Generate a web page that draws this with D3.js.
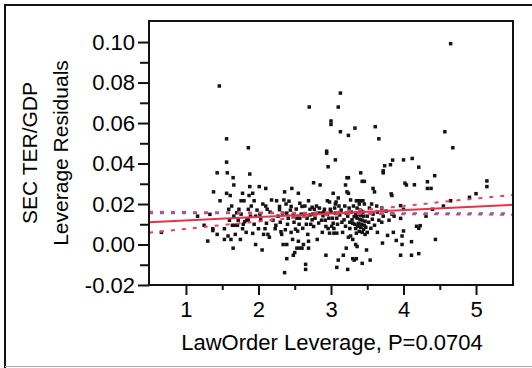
<!DOCTYPE html>
<html><head><meta charset="utf-8">
<script src="https://cdn.jsdelivr.net/npm/d3@7"></script>
<style>
body{margin:0;background:#fff}
svg{display:block}
text{font-family:"Liberation Sans",Arial,sans-serif;fill:#000}
</style>
</head><body><svg id="c" width="532" height="368"></svg>
<script>
// ---- data ----
const pointsX = [
0.66,1.16,1.25,1.30,1.33,1.38,1.37,1.37,1.43,1.43,1.46,1.47,1.53,1.53,1.56,1.56,1.56,1.57,1.58,1.59,
1.61,1.62,1.63,1.65,1.65,1.66,1.64,1.68,1.71,1.68,1.70,1.73,1.75,1.76,1.80,1.78,1.78,1.81,1.84,1.86,
1.86,1.86,1.88,1.88,1.87,1.92,1.94,1.90,1.92,1.96,1.96,2.01,2.10,2.06,2.10,2.00,2.03,2.05,2.12,2.11,
2.09,2.13,2.15,2.25,2.29,2.29,2.23,2.33,2.31,2.36,2.35,2.38,2.39,2.34,2.39,2.37,2.39,2.36,2.46,2.42,
2.45,2.41,2.48,2.47,2.48,2.50,2.51,2.54,2.55,2.57,2.60,2.53,2.57,2.53,2.57,2.60,2.55,2.62,2.65,2.65,
2.69,2.69,2.67,2.69,2.70,2.71,2.74,2.77,2.71,2.74,2.76,2.81,2.76,2.85,2.82,2.86,2.89,2.83,2.91,2.93,
2.94,2.94,2.96,2.95,2.98,2.93,2.96,2.98,3.00,3.00,3.03,2.99,3.02,3.03,3.04,3.06,3.06,3.08,3.10,3.10,
3.13,3.13,3.07,3.10,3.11,3.06,3.08,3.12,3.04,3.08,3.17,3.23,3.21,3.18,3.21,3.22,3.24,3.20,3.22,3.24,
3.27,3.24,3.33,3.24,3.27,3.30,3.26,3.29,3.32,3.34,3.30,3.34,3.35,3.34,3.36,3.30,3.32,3.35,3.43,3.49,
3.54,3.41,3.43,3.46,3.35,3.38,3.41,3.44,3.39,3.46,3.36,3.40,3.42,3.44,3.38,3.41,3.45,3.36,3.40,3.43,
3.47,3.38,3.42,3.46,3.37,3.41,3.45,3.48,3.39,3.43,3.47,3.50,3.52,3.53,3.50,3.55,3.56,3.57,3.58,3.60,
3.58,3.60,3.61,3.66,3.63,3.64,3.66,3.64,3.70,3.72,3.70,3.71,3.72,3.72,3.74,3.76,3.78,3.80,3.82,3.83,
3.84,3.85,3.84,3.86,3.87,3.90,3.96,3.96,3.98,3.98,3.96,4.00,4.00,4.00,4.02,4.04,4.11,4.11,4.12,4.15,
4.18,4.21,4.21,4.21,4.23,4.31,4.33,4.33,4.38,4.40,4.43,4.44,4.55,4.57,4.65,4.65,4.68,4.91,5.00,5.15,
5.15,
2.20,2.24,2.27,2.30,2.32,2.40,2.44,2.45,2.49,2.52,2.56,2.59,2.61,2.63,2.64,2.66,2.68,2.72,2.75,2.78,
2.80,2.84,2.87,2.88,2.90,2.92,2.95,2.97,3.00,3.01,3.05,3.09,3.14,3.15,3.16,3.19,3.20,3.23,3.25,3.26,
3.28,3.31,3.33,3.35,
1.60,1.66,1.72,1.76,1.79,1.83,1.89,1.94,1.98,2.02,2.07,2.16,2.18
];
const pointsY = [
0.0060,0.0140,0.0095,0.0017,0.0149,0.0260,0.0078,0.0069,0.0050,0.0354,0.0783,0.0216,0.0078,0.0025,0.0522,0.0407,0.0253,0.0354,0.0042,0.0174,
0.0242,0.0025,0.0190,0.0330,-0.0018,0.0294,0.0095,0.0095,0.0095,0.0050,0.0157,0.0174,0.0025,0.0216,0.0216,0.0253,0.0078,0.0113,0.0121,0.0121,
0.0174,0.0478,0.0348,0.0286,0.0242,0.0253,0.0216,0.0190,0.0055,0.0140,0.0000,0.0286,0.0277,0.0200,0.0190,0.0078,0.0122,-0.0027,0.0174,0.0105,
0.0078,0.0050,0.0036,0.0216,0.0188,0.0172,0.0078,0.0155,0.0063,0.0260,0.0220,0.0200,0.0155,0.0000,0.0000,0.0073,-0.0070,-0.0139,0.0277,0.0214,
0.0188,0.0130,0.0146,0.0025,-0.0053,-0.0040,0.0076,0.0066,0.0253,0.0204,0.0188,0.0130,0.0130,-0.0018,-0.0018,-0.0018,0.0016,0.0000,-0.0098,-0.0123,
0.0016,-0.0018,0.0130,0.0216,0.0679,0.0174,0.0184,0.0174,0.0146,0.0122,0.0089,0.0025,0.0305,0.0294,0.0155,0.0155,0.0142,0.0106,0.0174,-0.0053,
0.0461,0.0451,0.0384,0.0216,0.0210,0.0089,0.0079,0.0056,0.0610,0.0593,0.0253,0.0174,0.0130,0.0105,0.0056,0.0418,0.0200,-0.0113,-0.0077,0.0679,
0.0748,0.0557,0.0210,0.0230,0.0190,0.0155,0.0130,0.0146,0.0079,0.0056,-0.0053,-0.0123,-0.0018,0.0122,0.0155,0.0330,0.0330,0.0294,0.0260,0.0253,
0.0220,0.0539,0.0575,0.0036,0.0042,0.0025,0.0079,0.0122,0.0138,0.0155,0.0105,0.0079,0.0056,0.0000,-0.0010,-0.0070,-0.0077,-0.0070,-0.0093,-0.0027,
-0.0077,0.0354,0.0312,0.0312,0.0216,0.0216,0.0216,0.0216,0.0200,0.0200,0.0180,0.0170,0.0165,0.0160,0.0150,0.0145,0.0140,0.0130,0.0125,0.0120,
0.0115,0.0105,0.0100,0.0095,0.0090,0.0085,0.0075,0.0085,0.0065,0.0060,0.0050,0.0140,0.0110,0.0180,0.0060,0.0080,0.0200,0.0125,0.0277,0.0260,
0.0150,0.0095,0.0582,0.0522,0.0190,0.0160,0.0120,0.0060,0.0180,0.0140,0.0110,0.0007,0.0364,0.0354,0.0389,0.0165,0.0045,0.0120,0.0394,0.0250,
0.0242,0.0417,0.0150,0.0060,0.0140,0.0020,0.0192,0.0129,0.0042,0.0000,-0.0053,0.0418,0.0174,0.0067,0.0303,0.0294,0.0014,-0.0053,0.0425,0.0295,
0.0090,0.0080,0.0382,-0.0045,0.0093,0.0140,0.0310,0.0277,0.0277,0.0174,0.0340,0.0025,0.0190,0.0557,0.0216,0.0992,0.0478,0.0233,0.0251,0.0314,
0.0286,
0.0120,0.0095,0.0140,0.0110,0.0050,0.0100,0.0170,0.0060,0.0110,0.0175,0.0100,0.0150,0.0080,0.0140,0.0190,0.0100,0.0050,0.0100,0.0150,0.0130,
0.0190,0.0180,0.0120,0.0060,0.0160,0.0120,0.0150,0.0130,0.0160,0.0090,0.0180,0.0100,0.0170,0.0110,0.0060,0.0190,0.0090,0.0140,0.0180,0.0110,
0.0160,0.0190,0.0100,0.0140,
0.0120,0.0140,0.0120,0.0150,0.0100,0.0060,0.0140,0.0100,0.0170,0.0150,0.0050,0.0160,0.0220
];
const fitX = [0.49, 5.51];
const fitY = [0.0110, 0.0196];
const bandX =     [0.49,  1.0,   1.5,   2.0,   2.5,   3.0,   3.5,   4.0,   4.5,   5.0,   5.51];
const bandUpper = [0.0162,0.0160,0.0159,0.0158,0.0157,0.0160,0.0173,0.0190,0.0209,0.0227,0.0245];
const bandLower = [0.0058,0.0077,0.0096,0.0114,0.0132,0.0147,0.0151,0.0150,0.0149,0.0148,0.0147];
const meanY = 0.0154;
const xTicks = [1,2,3,4,5];
const xMinor = [1.5,2.5,3.5,4.5];
const yTicks = [-0.02,0.00,0.02,0.04,0.06,0.08,0.10];
const yMinor = [-0.01,0.01,0.03,0.05,0.07,0.09];
const xTitle = "LawOrder Leverage, P=0.0704";
const yTitle = ["SEC TER/GDP","Leverage Residuals"];

// ---- drawing ----
const svg = d3.select("#c");
const m = {l:149, r:513, t:21, b:285};
const x = d3.scaleLinear().domain([0.49,5.51]).range([m.l,m.r]);
const y = d3.scaleLinear().domain([-0.02,0.1104]).range([m.b,m.t]);

// outer frame
svg.append("line").attr("x1",5).attr("x2",532).attr("y1",5).attr("y2",5).attr("stroke","#111").attr("stroke-width",2);
svg.append("line").attr("x1",5).attr("x2",5).attr("y1",4).attr("y2",368).attr("stroke","#111").attr("stroke-width",2);
svg.append("line").attr("x1",5).attr("x2",532).attr("y1",366.5).attr("y2",366.5).attr("stroke","#aaa").attr("stroke-width",1);

svg.append("clipPath").attr("id","clip").append("rect")
  .attr("x",m.l).attr("y",m.t).attr("width",m.r-m.l).attr("height",m.b-m.t);

// points
const pts = pointsX.map((v,i)=>[v,pointsY[i]]);
svg.append("g").selectAll("rect").data(pts).join("rect")
  .attr("x",d=>x(d[0])-1.75).attr("y",d=>y(d[1])-1.75)
  .attr("width",3.5).attr("height",3.5).attr("fill","#141414");

const g = svg.append("g").attr("clip-path","url(#clip)");
// mean line (blue dotted)
g.append("line").attr("x1",x(0.49)).attr("x2",x(5.51)).attr("y1",y(meanY)).attr("y2",y(meanY))
  .attr("stroke","#4a72ee").attr("stroke-width",2).attr("stroke-dasharray","4,7");
// confidence bands (red dashed)
const bandLine = d3.line().x(d=>x(d[0])).y(d=>y(d[1])).curve(d3.curveMonotoneX);
[bandUpper,bandLower].forEach(arr=>{
  g.append("path").attr("d",bandLine(bandX.map((v,i)=>[v,arr[i]])))
    .attr("fill","none").attr("stroke","#ee3f5a").attr("stroke-width",2).attr("stroke-dasharray","4,7");
});
// fit line
g.append("path").attr("d",d3.line().x(d=>x(d[0])).y(d=>y(d[1]))(fitX.map((v,i)=>[v,fitY[i]])))
  .attr("fill","none").attr("stroke","#e8314a").attr("stroke-width",2);

// axes
const fmt = d=>d.toFixed(2);
const yAx = svg.append("g").attr("transform",`translate(${m.l},0)`)
  .call(d3.axisLeft(y).tickValues(yTicks).tickFormat(fmt).tickSize(11).tickSizeOuter(0).tickPadding(3));
svg.append("g").attr("transform",`translate(${m.l},0)`)
  .call(d3.axisLeft(y).tickValues(yMinor).tickFormat("").tickSize(9).tickSizeOuter(0));
const xAx = svg.append("g").attr("transform",`translate(0,${m.b})`)
  .call(d3.axisBottom(x).tickValues(xTicks).tickFormat(d3.format("d")).tickSize(10).tickSizeOuter(0).tickPadding(6));
svg.append("g").attr("transform",`translate(0,${m.b})`)
  .call(d3.axisBottom(x).tickValues(xMinor).tickFormat("").tickSize(5).tickSizeOuter(0));
svg.selectAll(".domain").remove();
svg.selectAll(".tick line").attr("stroke","#111").attr("stroke-width",2);
svg.selectAll(".tick text").attr("font-size",22).attr("font-family",'"Liberation Sans",Arial,sans-serif').attr("fill","#111");

// plot frame
svg.append("rect").attr("x",m.l).attr("y",m.t).attr("width",m.r-m.l).attr("height",m.b-m.t)
  .attr("fill","none").attr("stroke","#111").attr("stroke-width",2);

// titles
svg.append("text").attr("x",(m.l+m.r)/2+1).attr("y",350).attr("text-anchor","middle")
  .attr("font-size",22).text(xTitle);
[37,68].forEach((bx,i)=>{
  svg.append("text").attr("transform",`translate(${bx},153) rotate(-90)`)
    .attr("text-anchor","middle").attr("font-size",21).text(yTitle[i]);
});
</script></body></html>
